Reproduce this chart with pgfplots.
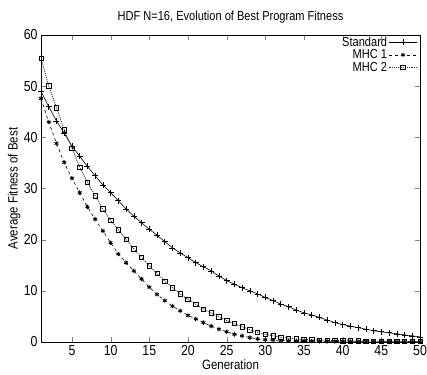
\documentclass[border=0pt]{standalone}
\usepackage{fontspec}
\setmainfont{Liberation Sans}[FakeStretch=0.85]
\usepackage{pgfplots}
\pgfplotsset{compat=1.18}
\begin{document}
\begin{tikzpicture}
\begin{axis}[
  scale only axis,
  width=379pt, height=307pt,
  xmin=1, xmax=50, ymin=0, ymax=60,
  xtick={5,10,...,50},
  ytick={0,10,...,60},
  tick align=inside,
  major tick length=5pt,
  axis line style={line width=0.8pt},
  /pgf/number format/assume math mode=true,
  tick label style={font=\fontsize{14.5}{15}\selectfont},
  label style={font=\fontsize{13.5}{14}\selectfont},
  title style={font=\fontsize{13}{14}\selectfont, at={(axis description cs:0.5,1.039)}, anchor=center, yshift=0pt},
  title={HDF N=16, Evolution of Best Program Fitness},
  xlabel={Generation},
  ylabel={Average Fitness of Best},
  xlabel style={at={(axis description cs:0.5,-0.075)}, anchor=center},
  ylabel style={at={(axis description cs:-0.071,0.5)}, anchor=center},
  legend plot pos=right,
  legend cell align=right,
  legend style={draw=none, fill=none, at={(0.995,1.005)}, anchor=north east,
    font=\fontsize{13}{13}\selectfont, inner sep=1pt, row sep=-2pt},
  legend image code/.code={\draw[#1] (0cm,0cm) -- (0.95cm,0cm); \draw[#1, mark repeat=1] plot coordinates {(0.475cm,0cm)};},
]
\addplot[black, line width=0.6pt, mark=+, mark size=3pt, mark options={solid}] coordinates {
(1,49.0)(2,46.0)(3,43.2)(4,40.8)(5,38.3)(6,36.3)(7,34.3)(8,32.5)(9,30.7)(10,29.2)
(11,27.6)(12,26.0)(13,24.6)(14,23.3)(15,22.0)(16,20.9)(17,19.6)(18,18.4)(19,17.4)(20,16.5)
(21,15.5)(22,14.7)(23,13.9)(24,12.9)(25,12.0)(26,11.3)(27,10.6)(28,10.0)(29,9.4)(30,8.7)
(31,8.1)(32,7.4)(33,6.9)(34,6.25)(35,5.7)(36,5.3)(37,4.8)(38,4.3)(39,3.8)(40,3.4)
(41,3.1)(42,2.8)(43,2.5)(44,2.2)(45,2.0)(46,1.8)(47,1.6)(48,1.4)(49,1.2)(50,1.0)};
\addlegendentry{Standard}
\addplot[black, line width=0.6pt, dashed, mark=asterisk, mark size=2.2pt, mark options={solid, line width=0.9pt}] coordinates {
(1,47.6)(2,43.0)(3,38.8)(4,35.1)(5,32.0)(6,29.2)(7,26.4)(8,24.0)(9,21.7)(10,19.4)
(11,17.2)(12,15.5)(13,13.9)(14,12.3)(15,10.7)(16,9.3)(17,8.1)(18,7.0)(19,6.1)(20,5.2)
(21,4.5)(22,3.8)(23,3.1)(24,2.5)(25,2.0)(26,1.5)(27,1.2)(28,0.85)(29,0.6)(30,0.45)
(31,0.35)(32,0.3)(33,0.25)(34,0.2)(35,0.18)(36,0.15)(37,0.13)(38,0.12)(39,0.1)(40,0.1)
(41,0.08)(42,0.08)(43,0.07)(44,0.07)(45,0.06)(46,0.06)(47,0.05)(48,0.05)(49,0.05)(50,0.05)};
\addlegendentry{MHC 1}
\addplot[black!80, line width=0.8pt, dash pattern=on 1.2pt off 1pt, mark=square, mark size=2.2pt, mark options={solid, black, line width=0.6pt}] coordinates {
(1,55.5)(2,50.1)(3,45.8)(4,41.5)(5,37.9)(6,34.2)(7,31.2)(8,28.6)(9,26.0)(10,23.8)
(11,21.9)(12,20.1)(13,18.2)(14,16.5)(15,14.9)(16,13.4)(17,11.9)(18,10.6)(19,9.4)(20,8.3)
(21,7.4)(22,6.4)(23,5.7)(24,4.9)(25,4.2)(26,3.6)(27,3.0)(28,2.4)(29,1.9)(30,1.5)
(31,1.2)(32,0.95)(33,0.75)(34,0.6)(35,0.5)(36,0.42)(37,0.36)(38,0.32)(39,0.28)(40,0.25)
(41,0.22)(42,0.2)(43,0.18)(44,0.16)(45,0.15)(46,0.14)(47,0.13)(48,0.12)(49,0.11)(50,0.1)};
\addlegendentry{MHC 2}
\end{axis}
\pgfresetboundingbox
\path[use as bounding box] ([shift={(-41pt,-33pt)}]current axis.south west) rectangle ([shift={(7pt,35pt)}]current axis.north east);
\end{tikzpicture}
\end{document}
